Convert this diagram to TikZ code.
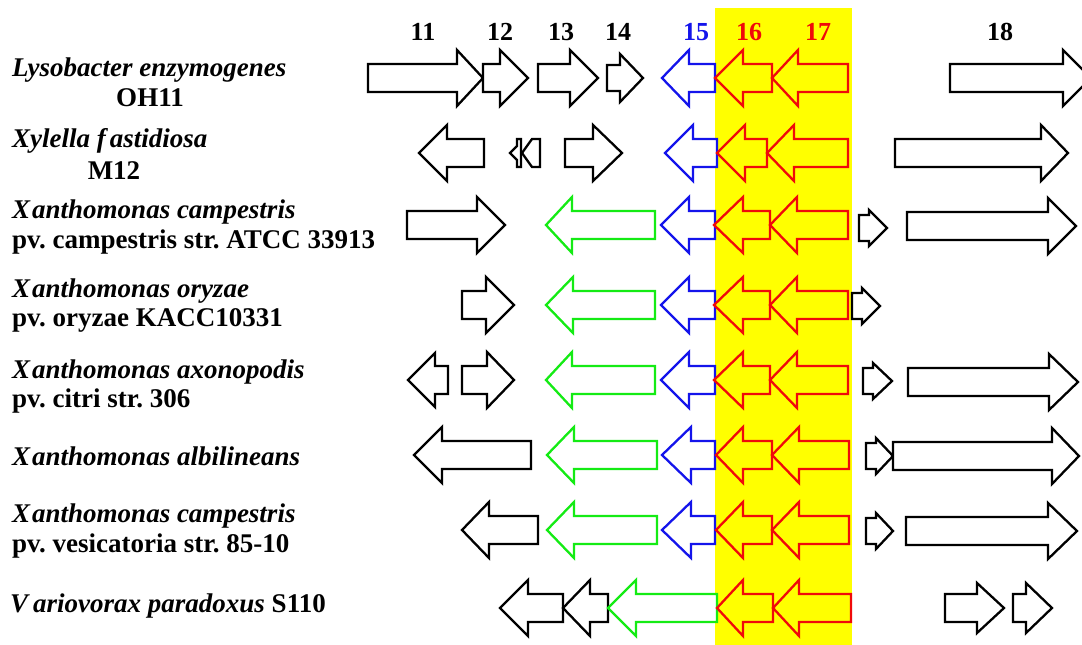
\documentclass[tikz,border=0pt]{standalone}
\usepackage{fontspec}
\setmainfont{Liberation Serif}
\frenchspacing
\definecolor{cblue}{RGB}{20,20,235}
\definecolor{cgreen}{RGB}{20,235,20}
\definecolor{cred}{RGB}{240,10,10}
\definecolor{cyellow}{RGB}{255,255,0}
\tikzset{
  genebase/.style={line width=2.3pt, line join=miter, miter limit=4},
  blk/.style={genebase, draw=black, fill=white},
  grn/.style={genebase, draw=cgreen, fill=white},
  blu/.style={genebase, draw=cblue, fill=white},
  rd/.style={genebase, draw=cred},
  lab/.style={font=\fontsize{27}{29}\selectfont\bfseries\frenchspacing, inner sep=0pt, anchor=base west},
  labc/.style={font=\fontsize{27}{29}\selectfont\bfseries, inner sep=0pt, anchor=base},
  num/.style={font=\fontsize{26}{28}\selectfont\bfseries, inner sep=0pt, anchor=base},
}
% right-pointing gene: start, head base, tip, y centre, head half height, shaft half height
\newcommand\geneR[7][blk]{\draw[#1] (#2,#5-#7) -- (#3,#5-#7) -- (#3,#5-#6) -- (#4,#5) -- (#3,#5+#6) -- (#3,#5+#7) -- (#2,#5+#7) -- cycle;}
% left-pointing gene: tip, head base, end, y centre, head half height, shaft half height
\newcommand\geneL[7][blk]{\draw[#1] (#2,#5) -- (#3,#5-#6) -- (#3,#5-#7) -- (#4,#5-#7) -- (#4,#5+#7) -- (#3,#5+#7) -- (#3,#5+#6) -- cycle;}
\newcommand\spc{\itshape}
\begin{document}
\begin{tikzpicture}[x=1pt, y=-1pt]
\useasboundingbox (0,0) rectangle (1082,645);
\clip (0,0) rectangle (1082,645);
% highlight band
\fill[cyellow] (715,8) rectangle (852,645);
% header numbers
\node[num] (n11) at (423,40) {11};
\node[num] (n12) at (500,40) {12};
\node[num] (n13) at (561,40) {13};
\node[num] (n14) at (618,40) {14};
\node[num, text=cblue] (n15) at (696,40) {15};
\node[num, text=cred] (n16) at (749,40) {16};
\node[num, text=cred] (n17) at (818,40) {17};
\node[num] (n18) at (1000,40) {18};
% labels
\node[lab] (l1a) at (12,76) {\spc Lysobacter enzymogenes};
\node[labc] (l1b) at (150,106) {OH11};
\node[lab] (l2a) at (12,147) {\spc Xylella f\kern4pt astidiosa};
\node[labc] (l2b) at (114,179) {M12};
\node[lab] (l3a) at (12,218) {\spc X\kern2pt anthomonas campestris};
\node[lab] (l3b) at (12,248) {pv. campestris str. ATCC 33913};
\node[lab] (l4a) at (12,297) {\spc X\kern2pt anthomonas oryzae};
\node[lab] (l4b) at (12,326) {pv. oryzae KACC10331};
\node[lab] (l5a) at (12,378) {\spc X\kern2pt anthomonas axonopodis};
\node[lab] (l5b) at (12,407) {pv. citri str. 306};
\node[lab] (l6a) at (12,465) {\spc X\kern2pt anthomonas albilineans};
\node[lab] (l7a) at (12,522) {\spc X\kern2pt anthomonas campestris};
\node[lab] (l7b) at (12,552) {pv. vesicatoria str. 85-10};
\node[lab] (l8a) at (10,612) {{\spc V\kern5pt ariovorax paradoxus} S110};
% row 1 : Lysobacter
\geneR{368}{457}{483}{78}{28}{14}
\geneR{483}{500}{528}{78}{28}{14}
\geneR{538}{570}{598}{78}{28}{14}
\geneR{607}{620}{643}{78}{24}{13}
\geneL[blu]{662}{689}{715}{78}{28}{14}
\geneL[rd]{715}{743}{772}{78}{28}{14}
\geneL[rd]{772}{798}{848}{78}{28}{14}
\geneR{950}{1063}{1091}{78}{28}{14}
% row 2 : Xylella
\geneL{419}{447}{484}{153}{28}{14}
\draw[blk] (510,153) -- (517,146) -- (517,139) -- (521,139) -- (521,167) -- (517,167) -- (517,160) -- cycle;
\draw[blk] (522,153) -- (532,139) -- (540,139) -- (540,167) -- (532,167) -- cycle;
\geneR{565}{593}{622}{153}{28}{14}
\geneL[blu]{665}{693}{717}{153}{28}{14}
\geneL[rd]{717}{745}{767}{153}{28}{14}
\geneL[rd]{767}{794}{848}{153}{28}{14}
\geneR{895}{1041}{1068}{153}{28}{14}
% row 3 : X. campestris ATCC 33913
\geneR{407}{477}{505}{225}{28}{14}
\geneL[grn]{546}{572}{655}{225}{28}{14}
\geneL[blu]{661}{689}{715}{225}{28}{14}
\geneL[rd]{714}{743}{770}{225}{28}{14}
\geneL[rd]{770}{797}{848}{225}{28}{14}
\geneR{859}{869}{887}{228}{18}{13}
\geneR{907}{1048}{1076}{226}{28}{14}
% row 4 : X. oryzae
\geneR{462}{486}{514}{305}{28}{14}
\geneL[grn]{546}{573}{655}{305}{28}{14}
\geneL[blu]{661}{689}{715}{305}{28}{14}
\geneL[rd]{714}{743}{770}{305}{28}{14}
\geneL[rd]{770}{797}{848}{305}{28}{14}
\geneR{852}{862}{880}{306}{18}{13}
% row 5 : X. axonopodis
\geneL{408}{435}{448}{380}{27}{14}
\geneR{462}{487}{514}{380}{28}{14}
\geneL[grn]{546}{572}{655}{380}{28}{14}
\geneL[blu]{661}{689}{715}{380}{28}{14}
\geneL[rd]{714}{743}{770}{380}{28}{14}
\geneL[rd]{770}{797}{848}{380}{28}{14}
\geneR{863}{873}{892}{381}{18}{13}
\geneR{908}{1049}{1078}{382}{28}{14}
% row 6 : X. albilineans
\geneL{414}{442}{531}{455}{28}{14}
\geneL[grn]{547}{574}{657}{455}{28}{14}
\geneL[blu]{662}{691}{715}{455}{28}{14}
\geneL[rd]{716}{743}{772}{455}{28}{14}
\geneL[rd]{772}{799}{849}{455}{28}{14}
\geneR{866}{876}{893}{456}{18}{13}
\geneR{893}{1052}{1079}{456}{28}{14}
% row 7 : X. campestris vesicatoria
\geneL{462}{489}{538}{530}{28}{14}
\geneL[grn]{547}{574}{657}{530}{28}{14}
\geneL[blu]{662}{691}{715}{530}{28}{14}
\geneL[rd]{716}{743}{772}{530}{28}{14}
\geneL[rd]{772}{799}{849}{530}{28}{14}
\geneR{866}{876}{893}{531}{18}{13}
\geneR{906}{1048}{1077}{531}{28}{14}
% row 8 : Variovorax
\geneL{500}{528}{563}{608}{28}{14}
\geneL{563}{590}{608}{608}{28}{14}
\geneL[grn]{608}{636}{717}{608}{28}{14}
\geneL[rd]{717}{743}{773}{608}{28}{14}
\geneL[rd]{773}{799}{851}{608}{28}{14}
\geneR{945}{977}{1004}{608}{25}{14}
\geneR{1013}{1026}{1052}{608}{25}{14}
\end{tikzpicture}
\end{document}
